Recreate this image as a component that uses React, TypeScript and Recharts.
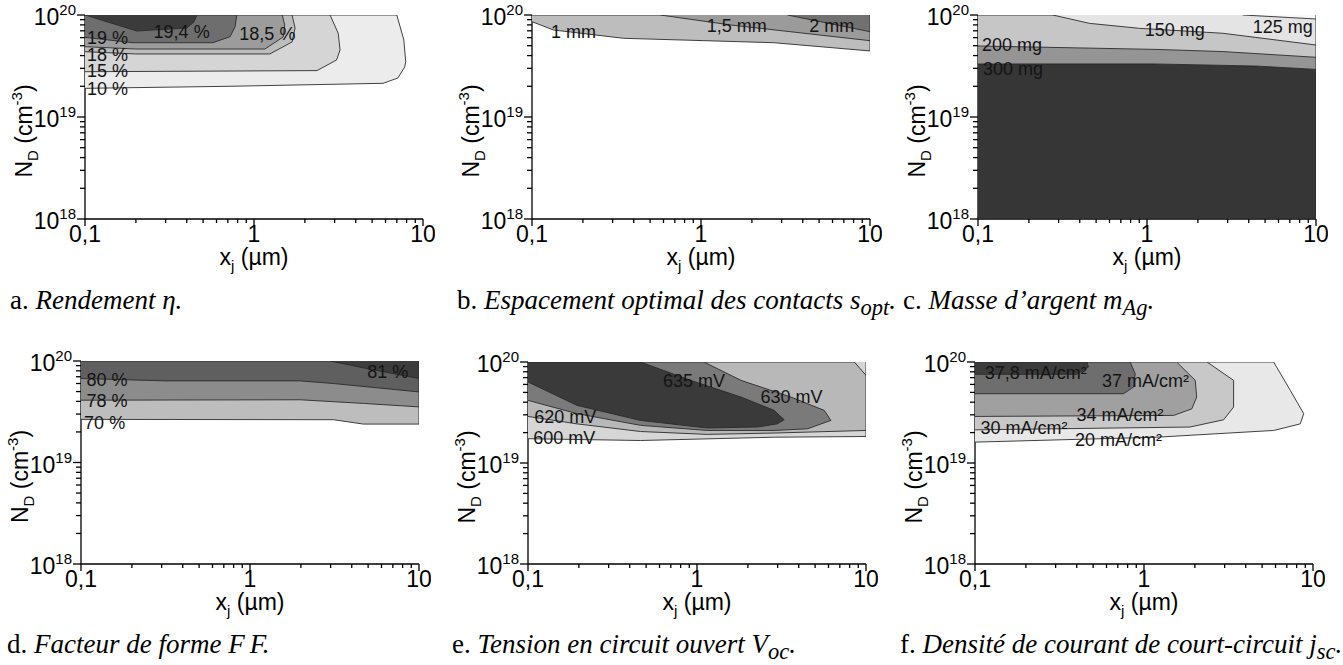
import React from "react";
import { ComposedChart, Scatter, XAxis, YAxis, ReferenceDot } from "recharts";

type Pt = [number, number];

const X_TICKS = [0.1, 0.2, 0.3, 0.4, 0.5, 0.6, 0.7, 0.8, 0.9, 1, 2, 3, 4, 5, 6, 7, 8, 9, 10];
const X_MAJOR = [0.1, 1, 10];
const X_LABELS = ["0,1", "1", "10"];
const Y_TICKS = [
  1e18, 2e18, 3e18, 4e18, 5e18, 6e18, 7e18, 8e18, 9e18,
  1e19, 2e19, 3e19, 4e19, 5e19, 6e19, 7e19, 8e19, 9e19, 1e20,
];
const Y_MAJOR = [1e18, 1e19, 1e20];
const Y_EXP = ["18", "19", "20"];

// a. rendement (%) : iso-lignes 10, 15, 18, 18.5, 19, 19.4
const ETA_10: Pt[] = [[0.1, 1.91e19], [0.72, 2.0e19], [5.8, 2.14e19], [7.1, 2.41e19], [7.8, 3.1e19], [7.9, 3.5e19], [7.7, 5.7e19], [7.0, 1e20], [0.1, 1e20]];
const ETA_15: Pt[] = [[0.1, 2.78e19], [2.36, 2.85e19], [3.08, 3.62e19], [3.23, 4.54e19], [3.15, 6.62e19], [2.82, 1e20], [0.1, 1e20]];
const ETA_18: Pt[] = [[0.1, 4.37e19], [0.2, 4.15e19], [1.24, 4.15e19], [1.68, 5.44e19], [1.75, 7.46e19], [1.68, 1e20], [0.1, 1e20]];
const ETA_185: Pt[] = [[0.1, 4.89e19], [0.2, 4.64e19], [1.16, 4.64e19], [1.49, 6.09e19], [1.52, 7.98e19], [1.47, 1e20], [0.1, 1e20]];
const ETA_19: Pt[] = [[0.1, 6.04e19], [0.192, 5.35e19], [0.571, 5.35e19], [0.722, 6.13e19], [0.773, 7.68e19], [0.791, 1e20], [0.1, 1e20]];
const ETA_194: Pt[] = [[0.1, 1e20], [0.203, 6.96e19], [0.4, 7.46e19], [0.44, 8.5e19], [0.46, 1e20]];

// b. espacement optimal (mm) : 1, 1.5, 2
const S_1: Pt[] = [[0.1, 8.6e19], [0.134, 7.13e19], [0.348, 5.91e19], [2.7, 5.35e19], [10, 4.44e19], [10, 1e20], [0.1, 1e20]];
const S_15: Pt[] = [[0.575, 1e20], [1.5, 7.98e19], [10, 5.6e19], [10, 1e20]];
const S_2: Pt[] = [[3.25, 1e20], [10, 6.86e19], [10, 1e20]];

// c. masse d'argent (mg) : 300, 200, 150, 125
const M_300_LOW: Pt[] = [[0.1, 3.31e19], [1.13, 3.31e19], [4.42, 3.16e19], [10, 2.93e19], [10, 1e18], [0.1, 1e18]];
const M_300_UP: Pt[] = [[0.1, 3.31e19], [1.13, 3.31e19], [4.42, 3.16e19], [10, 2.93e19], [10, 1e20], [0.1, 1e20]];
const M_200: Pt[] = [[0.1, 4.97e19], [1.13, 4.6e19], [2.81, 4.38e19], [10, 3.85e19], [10, 1e20], [0.1, 1e20]];
const M_150: Pt[] = [[0.277, 1e20], [0.457, 8.28e19], [0.903, 7.4e19], [2.81, 6.62e19], [10, 5.08e19], [10, 1e20]];
const M_125: Pt[] = [[3.68, 1e20], [10, 9.14e19], [10, 1e20]];

// d. facteur de forme (%) : 70, 78, 80, 81
const FF_70: Pt[] = [[0.1, 2.66e19], [3.12, 2.64e19], [4.69, 2.39e19], [10, 2.39e19], [10, 1e20], [0.1, 1e20]];
const FF_78: Pt[] = [[0.1, 4.11e19], [1.98, 4.15e19], [4.69, 3.82e19], [10, 3.53e19], [10, 1e20], [0.1, 1e20]];
const FF_80: Pt[] = [[0.1, 6.72e19], [0.32, 6.37e19], [1.98, 6.37e19], [3.12, 6.0e19], [10, 4.96e19], [10, 1e20], [0.1, 1e20]];
const FF_81: Pt[] = [[2.98, 1e20], [4.92, 8.42e19], [10, 6.72e19], [10, 1e20]];

// e. Voc (mV) : 600, 620, 630, 635
const VOC_600: Pt[] = [[0.1, 1.74e19], [0.463, 1.67e19], [2.86, 1.8e19], [10, 1.83e19], [10, 1e20], [0.1, 1e20]];
const VOC_620: Pt[] = [[0.1, 2.89e19], [0.195, 2.44e19], [0.463, 2.05e19], [1.15, 1.92e19], [2.86, 1.98e19], [10, 2.1e19], [10, 1e20], [0.1, 1e20]];
const VOC_630: Pt[] = [[0.1, 4.17e19], [0.195, 3.08e19], [0.463, 2.36e19], [1.15, 2.1e19], [2.86, 2.1e19], [4.51, 2.18e19], [6.2, 2.64e19], [5.66, 3.32e19], [3.59, 4.5e19], [1.82, 6.58e19], [1.1, 1e20], [0.1, 1e20]];
const VOC_635: Pt[] = [[0.1, 6.34e19], [0.195, 3.72e19], [0.463, 2.64e19], [1.15, 2.22e19], [2.28, 2.27e19], [2.99, 2.44e19], [3.28, 2.68e19], [2.86, 3.32e19], [1.82, 4.5e19], [0.917, 6.58e19], [0.463, 1e20], [0.1, 1e20]];
const VOC_620_CORNER: Pt[] = [[8.53, 1e20], [10, 7.38e19], [10, 1e20]];

// f. jsc (mA/cm²) : 20, 30, 34, 37, 37.8
const J_20: Pt[] = [[0.1, 1.61e19], [1.19, 1.8e19], [5.85, 2.1e19], [8.41, 2.44e19], [8.81, 3.08e19], [7.34, 5.24e19], [5.85, 1e20], [0.1, 1e20]];
const J_30: Pt[] = [[0.1, 2.13e19], [1.87, 2.27e19], [2.96, 2.68e19], [3.39, 3.58e19], [3.39, 6.58e19], [2.36, 1e20], [0.1, 1e20]];
const J_34: Pt[] = [[0.1, 2.89e19], [1.5, 2.96e19], [1.92, 3.44e19], [2.05, 4.5e19], [2.01, 6.58e19], [1.56, 1e20], [0.1, 1e20]];
const J_37: Pt[] = [[0.1, 4.85e19], [0.756, 4.85e19], [0.867, 5.65e19], [0.887, 7.66e19], [0.828, 1e20], [0.1, 1e20]];
const J_378: Pt[] = [[0.1, 7.55e19], [0.4, 7.55e19], [0.469, 8.92e19], [0.46, 1e20], [0.1, 1e20]];

type Region = { pts: Pt[]; fill: string };
type Tag = { x: number; y: number; text: string };
type Panel = {
  left: number;
  top: number;
  h: number;
  capLeft: number;
  regions: Region[];
  tags: Tag[];
  caption: React.ReactNode;
};

const PANELS: Panel[] = [
  {
    left: 85, top: 15, h: 204, capLeft: 10,
    regions: [
      { pts: ETA_10, fill: "#ececec" },
      { pts: ETA_15, fill: "#d5d5d5" },
      { pts: ETA_18, fill: "#bdbdbd" },
      { pts: ETA_185, fill: "#9c9c9c" },
      { pts: ETA_19, fill: "#6e6e6e" },
      { pts: ETA_194, fill: "#3b3b3b" },
    ],
    tags: [
      { x: 0.373, y: 6.89e19, text: "19,4 %" },
      { x: 1.2, y: 6.59e19, text: "18,5 %" },
      { x: 0.136, y: 6.01e19, text: "19 %" },
      { x: 0.136, y: 4.1e19, text: "18 %" },
      { x: 0.136, y: 2.83e19, text: "15 %" },
      { x: 0.136, y: 1.9e19, text: "10 %" },
    ],
    caption: <>a. <i>Rendement η.</i></>,
  },
  {
    left: 532, top: 15, h: 204, capLeft: 457,
    regions: [
      { pts: S_1, fill: "#bdbdbd" },
      { pts: S_15, fill: "#9b9b9b" },
      { pts: S_2, fill: "#717171" },
    ],
    tags: [
      { x: 0.176, y: 6.89e19, text: "1 mm" },
      { x: 1.63, y: 7.89e19, text: "1,5 mm" },
      { x: 5.94, y: 7.89e19, text: "2 mm" },
    ],
    caption: <>b. <i>Espacement optimal des contacts s<sub>opt</sub>.</i></>,
  },
  {
    left: 978, top: 15, h: 204, capLeft: 903,
    regions: [
      { pts: M_300_LOW, fill: "#363636" },
      { pts: M_300_UP, fill: "#959595" },
      { pts: M_200, fill: "#c6c6c6" },
      { pts: M_150, fill: "#e4e4e4" },
      { pts: M_125, fill: "#f7f7f7" },
    ],
    tags: [
      { x: 6.35, y: 7.68e19, text: "125 mg" },
      { x: 1.46, y: 7.13e19, text: "150 mg" },
      { x: 0.159, y: 5.18e19, text: "200 mg" },
      { x: 0.161, y: 3.0e19, text: "300 mg" },
    ],
    caption: <>c. <i>Masse d’argent m<sub>Ag</sub>.</i></>,
  },
  {
    left: 81, top: 361, h: 203, capLeft: 7,
    regions: [
      { pts: FF_70, fill: "#bdbdbd" },
      { pts: FF_78, fill: "#8c8c8c" },
      { pts: FF_80, fill: "#5f5f5f" },
      { pts: FF_81, fill: "#3c3c3c" },
    ],
    tags: [
      { x: 0.1426, y: 6.58e19, text: "80 %" },
      { x: 0.1426, y: 4.09e19, text: "78 %" },
      { x: 0.138, y: 2.47e19, text: "70 %" },
      { x: 6.53, y: 7.96e19, text: "81 %" },
    ],
    caption: <>d. <i>Facteur de forme <span style={{ marginRight: 5 }}>F</span>F.</i></>,
  },
  {
    left: 528, top: 362, h: 202, capLeft: 452,
    regions: [
      { pts: VOC_600, fill: "#d6d6d6" },
      { pts: VOC_620, fill: "#b8b8b8" },
      { pts: VOC_620_CORNER, fill: "#d6d6d6" },
      { pts: VOC_630, fill: "#7a7a7a" },
      { pts: VOC_635, fill: "#3a3a3a" },
    ],
    tags: [
      { x: 0.96, y: 6.49e19, text: "635 mV" },
      { x: 3.62, y: 4.6e19, text: "630 mV" },
      { x: 0.166, y: 2.91e19, text: "620 mV" },
      { x: 0.164, y: 1.78e19, text: "600 mV" },
    ],
    caption: <>e. <i>Tension en circuit ouvert V<sub>oc</sub>.</i></>,
  },
  {
    left: 975, top: 362, h: 202, capLeft: 900,
    regions: [
      { pts: J_20, fill: "#e8e8e8" },
      { pts: J_30, fill: "#c8c8c8" },
      { pts: J_34, fill: "#a0a0a0" },
      { pts: J_37, fill: "#6e6e6e" },
      { pts: J_378, fill: "#3c3c3c" },
    ],
    tags: [
      { x: 0.229, y: 7.83e19, text: "37,8 mA/cm²" },
      { x: 1.02, y: 6.49e19, text: "37 mA/cm²" },
      { x: 0.72, y: 3.03e19, text: "34 mA/cm²" },
      { x: 0.195, y: 2.23e19, text: "30 mA/cm²" },
      { x: 0.706, y: 1.71e19, text: "20 mA/cm²" },
    ],
    caption: <>f. <i>Densité de courant de court-circuit j<sub>sc</sub>.</i></>,
  },
];

const AXIS = "#000";
const CONTOUR = "#2b2b2b";
const TICK_FONT = 23;
const SUP_FONT = 15;
const TITLE_FONT = 23;
const TAG_FONT = 18;

const NoDot = () => null;

function BottomTick({ x, y, payload }: any) {
  const i = X_MAJOR.indexOf(payload.value);
  return (
    <g>
      <line x1={x} y1={y} x2={x} y2={y + (i >= 0 ? 7 : 4)} stroke={AXIS} strokeWidth={1.3} />
      {i >= 0 && (
        <text x={x} y={y + 23} textAnchor="middle" fontSize={TICK_FONT} fill="#000">
          {X_LABELS[i]}
        </text>
      )}
      {payload.value === 1 && (
        <text x={x} y={y + 46} textAnchor="middle" fontSize={TITLE_FONT} fill="#000">
          x<tspan dy={6} fontSize={15}>j</tspan>
          <tspan dy={-6}> (µm)</tspan>
        </text>
      )}
    </g>
  );
}

function LeftTick({ x, y, payload }: any) {
  const i = Y_MAJOR.indexOf(payload.value);
  const cx = x - 53;
  const cy = y + 14;
  return (
    <g>
      <line x1={x} y1={y} x2={x - (i >= 0 ? 8 : 5)} y2={y} stroke={AXIS} strokeWidth={1.3} />
      {i >= 0 && (
        <text x={x - 9} y={y + 10} textAnchor="end" fontSize={TICK_FONT} fill="#000">
          10<tspan dy={-10} fontSize={SUP_FONT}>{Y_EXP[i]}</tspan>
        </text>
      )}
      {payload.value === 1e19 && (
        <text x={cx} y={cy} transform={`rotate(-90 ${cx} ${cy})`} textAnchor="middle" fontSize={TITLE_FONT} fill="#000">
          N<tspan dy={6} fontSize={15}>D</tspan>
          <tspan dy={-6}> (cm</tspan>
          <tspan dy={-10} fontSize={15}>-3</tspan>
          <tspan dy={10}>)</tspan>
        </text>
      )}
    </g>
  );
}

function TopTick({ x, y, payload }: any) {
  const major = X_MAJOR.includes(payload.value);
  return <line x1={x} y1={y} x2={x} y2={y + (major ? 7 : 4)} stroke={AXIS} strokeWidth={1.3} />;
}

function RightTick({ x, y, payload }: any) {
  const major = Y_MAJOR.includes(payload.value);
  return <line x1={x} y1={y} x2={x - (major ? 7 : 4)} y2={y} stroke={AXIS} strokeWidth={1.3} />;
}

function ContourPanel({ panel }: { panel: Panel }) {
  return (
    <>
      <div style={{ position: "absolute", left: panel.left - 90, top: panel.top - 15 }}>
        <ComposedChart width={440} height={panel.h + 70} margin={{ top: 15, right: 12, bottom: 0, left: 0 }}>
          {panel.regions.map((r, i) => (
            <Scatter
              key={i}
              data={r.pts.map(([xj, nd]) => ({ xj, nd }))}
              line={{ fill: r.fill, stroke: CONTOUR, strokeWidth: 0.9 }}
              shape={NoDot}
              legendType="none"
              isAnimationActive={false}
            />
          ))}
          <XAxis
            dataKey="xj"
            type="number"
            scale="log"
            domain={[0.1, 10]}
            allowDataOverflow
            ticks={X_TICKS}
            interval={0}
            tickSize={0}
            tickMargin={0}
            height={55}
            axisLine={{ stroke: AXIS, strokeWidth: 1.3 }}
            tick={<BottomTick />}
          />
          <XAxis
            xAxisId="top"
            orientation="top"
            type="number"
            scale="log"
            domain={[0.1, 10]}
            allowDataOverflow
            ticks={X_TICKS}
            interval={0}
            tickSize={0}
            tickMargin={0}
            height={0}
            axisLine={{ stroke: AXIS, strokeWidth: 1.3 }}
            tick={<TopTick />}
          />
          <YAxis
            dataKey="nd"
            type="number"
            scale="log"
            domain={[1e18, 1e20]}
            allowDataOverflow
            ticks={Y_TICKS}
            interval={0}
            tickSize={0}
            tickMargin={0}
            width={90}
            axisLine={{ stroke: AXIS, strokeWidth: 1.3 }}
            tick={<LeftTick />}
          />
          <YAxis
            yAxisId="right"
            orientation="right"
            type="number"
            scale="log"
            domain={[1e18, 1e20]}
            allowDataOverflow
            ticks={Y_TICKS}
            interval={0}
            tickSize={0}
            tickMargin={0}
            width={0}
            axisLine={{ stroke: AXIS, strokeWidth: 1.3 }}
            tick={<RightTick />}
          />
          {panel.tags.map((t, i) => (
            <ReferenceDot
              key={"t" + i}
              x={t.x}
              y={t.y}
              r={0}
              ifOverflow="visible"
              shape={(p: any) => (
                <text x={p.cx} y={p.cy} dy={6.5} textAnchor="middle" fontSize={TAG_FONT} fill="#141414">
                  {t.text}
                </text>
              )}
            />
          ))}
        </ComposedChart>
      </div>
      <div
        style={{
          position: "absolute",
          left: panel.capLeft,
          top: panel.top < 100 ? 287 : 631,
          fontFamily: '"Liberation Serif", "Times New Roman", serif',
          fontSize: 27,
          lineHeight: "27px",
          whiteSpace: "nowrap",
          color: "#000",
        }}
      >
        {panel.caption}
      </div>
    </>
  );
}

export default function App() {
  return (
    <div
      style={{
        position: "absolute",
        left: 0,
        top: 0,
        width: 1343,
        height: 665,
        overflow: "hidden",
        background: "#fff",
        fontFamily: '"Liberation Sans", Arial, sans-serif',
      }}
    >
      {PANELS.map((p, i) => (
        <ContourPanel key={i} panel={p} />
      ))}
    </div>
  );
}
